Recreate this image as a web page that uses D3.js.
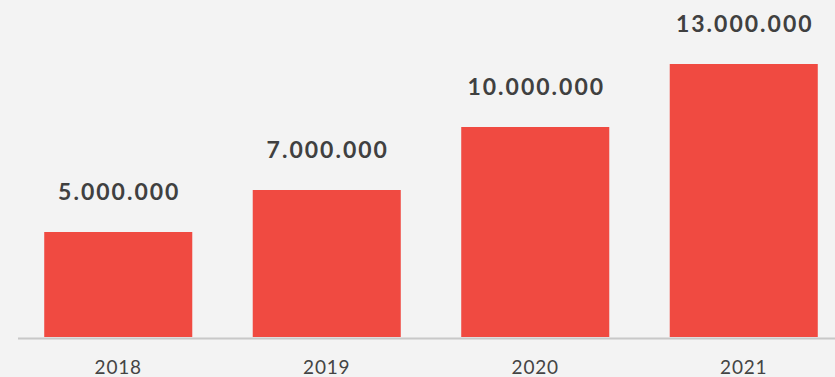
<!DOCTYPE html>
<html>
<head>
<meta charset="utf-8">
<script src="https://cdn.jsdelivr.net/npm/d3@7"></script>
<style>
  html, body { margin: 0; padding: 0; background: #f3f3f3; }
  svg { display: block; }
</style>
</head>
<body>
<svg id="chart" width="835" height="377"></svg>
<script>
const years = ["2018", "2019", "2020", "2021"];
const values = [5000000, 7000000, 10000000, 13000000];
const valueLabels = ["5.000.000", "7.000.000", "10.000.000", "13.000.000"];

const svg = d3.select("#chart");
const W = 835, H = 377;

svg.append("rect").attr("width", W).attr("height", H).attr("fill", "#f3f3f3");

const x = d3.scaleBand()
  .domain(years)
  .range([14, 848])
  .paddingInner(0.29)
  .paddingOuter(0.145);

const y = d3.scaleLinear()
  .domain([0, 13000000])
  .range([337, 64]);

// bars
svg.append("g").selectAll("rect")
  .data(years)
  .join("rect")
  .attr("x", d => x(d))
  .attr("y", (d, i) => y(values[i]))
  .attr("width", x.bandwidth())
  .attr("height", (d, i) => y(0) - y(values[i]))
  .attr("fill", "#f04a41");

// baseline
svg.append("line")
  .attr("x1", 18).attr("x2", W)
  .attr("y1", 338.5).attr("y2", 338.5)
  .attr("stroke", "#c8c8c8")
  .attr("stroke-width", 2);

// value labels
svg.append("g").selectAll("text")
  .data(years)
  .join("text")
  .attr("x", d => x(d) + x.bandwidth() / 2 + 1)
  .attr("y", (d, i) => y(values[i]) - 32)
  .attr("text-anchor", "middle")
  .attr("font-family", "Lato, 'Open Sans', sans-serif")
  .attr("font-weight", 700)
  .attr("font-size", 23)
  .attr("letter-spacing", 2)
  .attr("fill", "#404040")
  .text((d, i) => valueLabels[i]);

// category axis labels
const xAxis = d3.axisBottom(x).tickSize(0).tickPadding(0);
const gx = svg.append("g").attr("transform", "translate(0,356)").call(xAxis);
gx.select(".domain").remove();
gx.selectAll("text")
  .attr("dy", "0.95em")
  .attr("font-family", "Lato, 'Open Sans', sans-serif")
  .attr("font-size", 19)
  .attr("letter-spacing", 0.8)
  .attr("fill", "#444444");
</script>
</body>
</html>
